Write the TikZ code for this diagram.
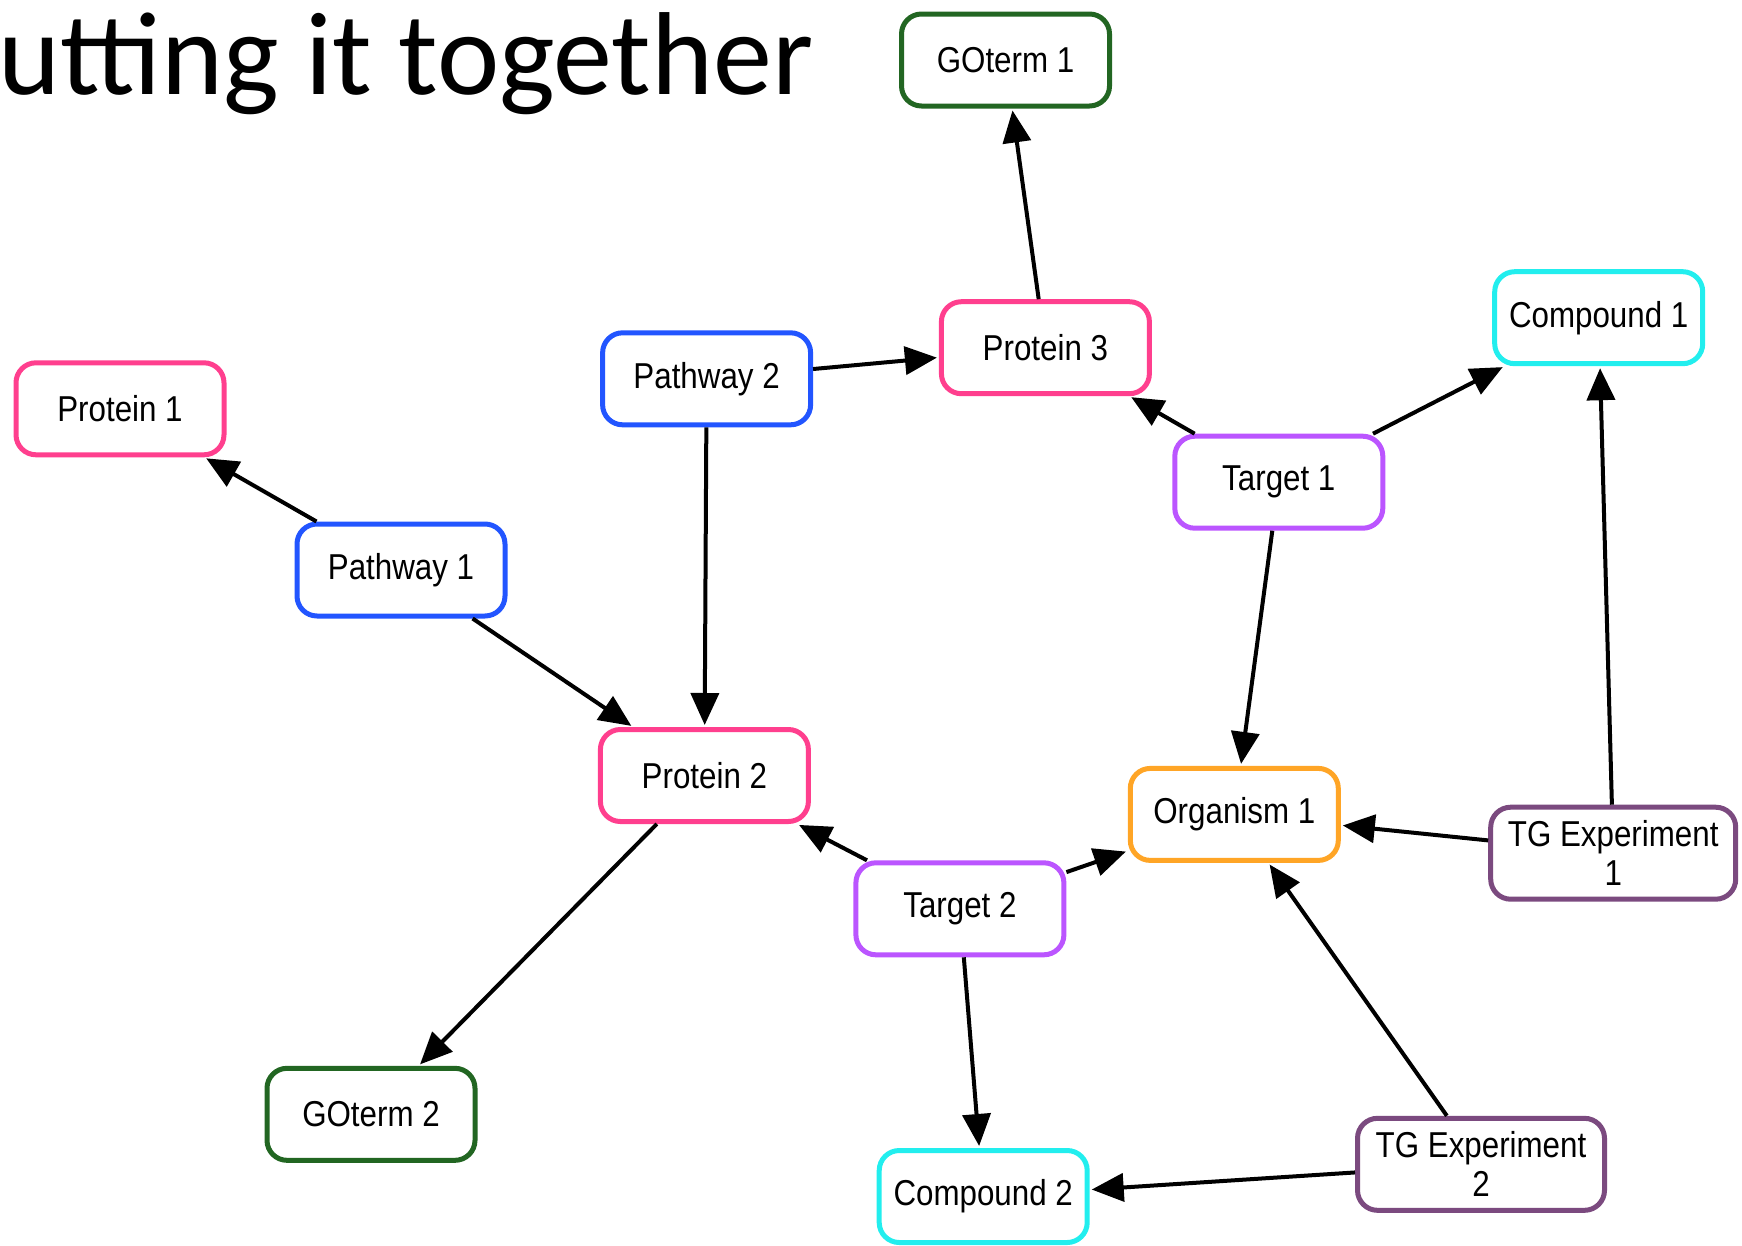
\documentclass[tikz,border=0pt]{standalone}
\usepackage{fontspec}
\setmainfont{Liberation Sans}
\newfontfamily\titlefont{Carlito}
\newfontfamily\boxfont[FakeStretch=0.87]{Liberation Sans}
\usetikzlibrary{arrows.meta}
\definecolor{cpink}{HTML}{FF3F8E}
\definecolor{cblue}{HTML}{2255FF}
\definecolor{cgreen}{HTML}{226622}
\definecolor{ccyan}{HTML}{22EEEE}
\definecolor{cviolet}{HTML}{BB55FF}
\definecolor{corange}{HTML}{FFA526}
\definecolor{cplum}{HTML}{7B4A7F}
\tikzset{
  box/.style={draw, line width=5pt, rounded corners=20pt, fill=white,
    minimum width=208pt, minimum height=92pt, inner sep=0pt, align=center,
    font=\boxfont\fontsize{36}{39}\selectfont},
  edge/.style={line width=4pt, -{Triangle[length=32pt,width=28pt]}, shorten >=2pt}
}
\begin{document}
\begin{tikzpicture}[x=1pt,y=-1pt]
\useasboundingbox (0,0) rectangle (1742,1245);
\node[anchor=base west, font=\titlefont\fontsize{118}{122}\selectfont, inner sep=0pt] (title) at (-2,94) {utting it together};

\node[box, draw=cgreen] (go1) at (1005.5,60) {GOterm 1};
\node[box, draw=ccyan] (c1) at (1598.7,317.7) {Compound 1};
\node[box, draw=cpink] (p3) at (1045.4,347.7) {Protein 3};
\node[box, draw=cblue] (pw2) at (706.6,378.8) {Pathway 2};
\node[box, draw=cpink] (p1) at (120,408.8) {Protein 1};
\node[box, draw=cviolet] (t1) at (1278.8,482.2) {Target 1};
\node[box, draw=cblue] (pw1) at (401,570) {Pathway 1};
\node[box, draw=cpink] (p2) at (704.4,775.5) {Protein 2};
\node[box, draw=corange] (o1) at (1234.3,814.4) {Organism 1};
\node[box, draw=cplum, minimum width=245pt] (tg1) at (1613.2,853.2) {TG Experiment\\1};
\node[box, draw=cviolet] (t2) at (959.9,908.8) {Target 2};
\node[box, draw=cgreen] (go2) at (371,1114.3) {GOterm 2};
\node[box, draw=cplum, minimum width=247pt] (tg2) at (1481,1164.3) {TG Experiment\\2};
\node[box, draw=ccyan] (c2) at (983.2,1196.5) {Compound 2};

\draw[edge] (pw1) -- (p1);
\draw[edge] (pw1) -- (p2);
\draw[edge] (pw2) -- (p2);
\draw[edge] (pw2) -- (p3);
\draw[edge] (p3) -- (go1);
\draw[edge] (t1) -- (p3);
\draw[edge] (t1) -- (c1);
\draw[edge] (t1) -- (o1);
\draw[edge] (tg1) -- (c1);
\draw[edge] (tg1) -- (o1);
\draw[edge] (p2) -- (go2);
\draw[edge] (t2) -- (p2);
\draw[edge] (t2) -- (o1);
\draw[edge] (t2) -- (c2);
\draw[edge] (tg2) -- (o1);
\draw[edge] (tg2) -- (c2);
\end{tikzpicture}
\end{document}
